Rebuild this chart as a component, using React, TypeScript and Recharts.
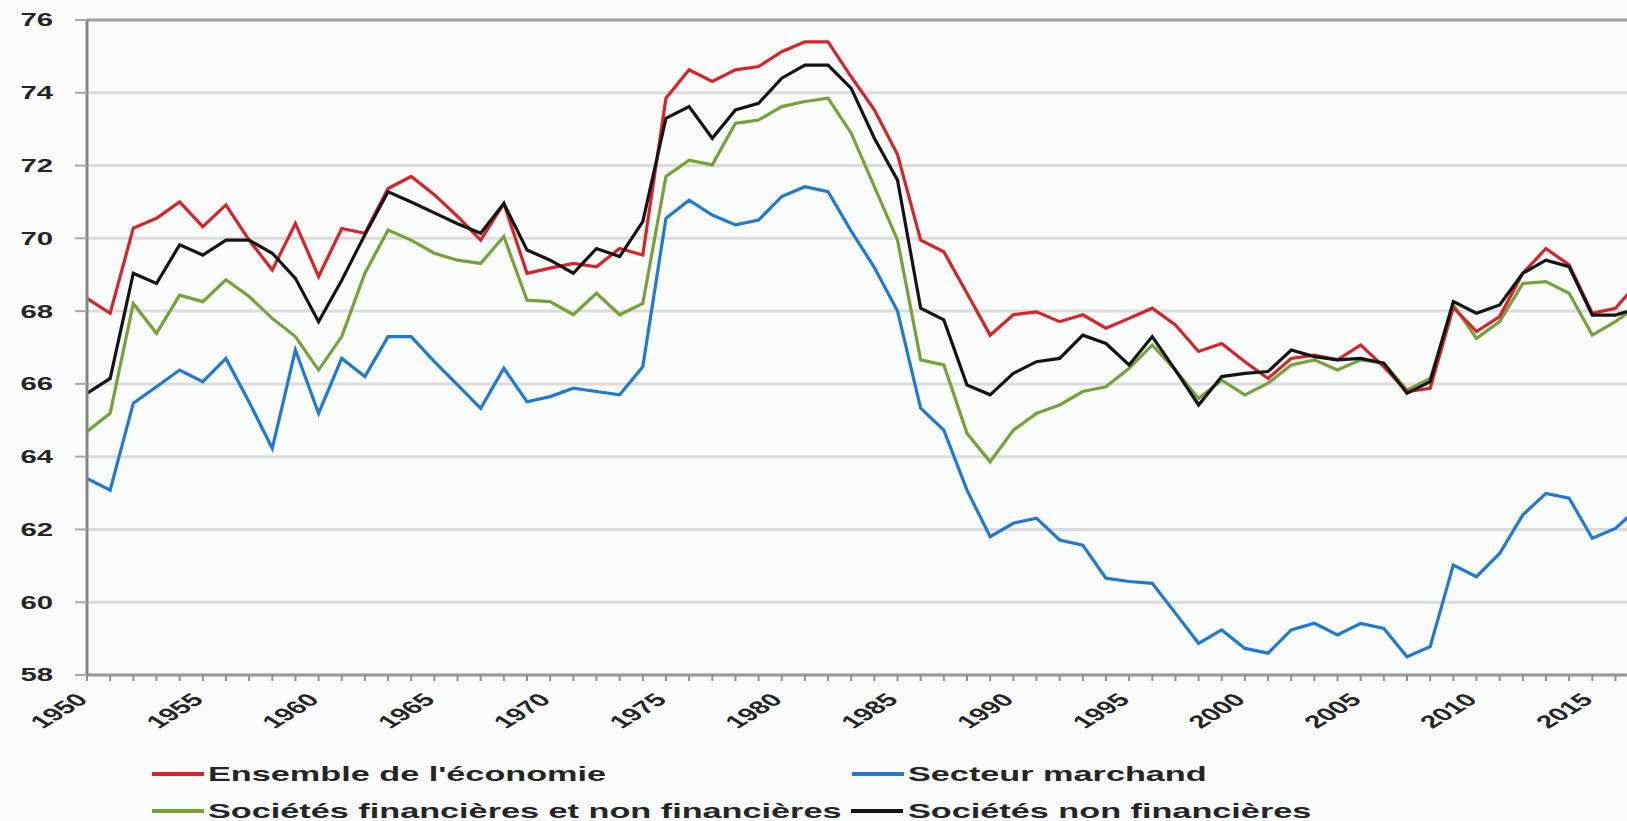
import React from "react";
import {
  LineChart,
  Line,
  XAxis,
  YAxis,
  CartesianGrid,
  ReferenceLine,
} from "recharts";

// Years on the horizontal axis
const years = [
  1950, 1951, 1952, 1953, 1954, 1955, 1956, 1957, 1958, 1959,
  1960, 1961, 1962, 1963, 1964, 1965, 1966, 1967, 1968, 1969,
  1970, 1971, 1972, 1973, 1974, 1975, 1976, 1977, 1978, 1979,
  1980, 1981, 1982, 1983, 1984, 1985, 1986, 1987, 1988, 1989,
  1990, 1991, 1992, 1993, 1994, 1995, 1996, 1997, 1998, 1999,
  2000, 2001, 2002, 2003, 2004, 2005, 2006, 2007, 2008, 2009,
  2010, 2011, 2012, 2013, 2014, 2015, 2016, 2017,
];

// Ensemble de l'économie
const ensemble = [
  68.35, 67.94, 70.28, 70.55, 71.0, 70.32, 70.92, 69.95, 69.13, 70.41,
  68.95, 70.27, 70.14, 71.37, 71.7, 71.2, 70.6, 69.95, 70.96, 69.04,
  69.18, 69.31, 69.22, 69.72, 69.54, 73.85, 74.63, 74.31, 74.63, 74.72,
  75.13, 75.4, 75.4, 74.44, 73.53, 72.3, 69.95, 69.63, 68.49, 67.34,
  67.9, 67.98, 67.71, 67.9, 67.53, 67.8, 68.08, 67.62, 66.89, 67.11,
  66.61, 66.15, 66.7, 66.79, 66.66, 67.07, 66.47, 65.79, 65.88, 68.1,
  67.44, 67.85, 69.04, 69.72, 69.27, 67.94, 68.08, 68.8,
];

// Secteur marchand
const marchand = [
  63.4, 63.08, 65.47, 65.92, 66.38, 66.06, 66.7, 65.5, 64.23, 66.93,
  65.19, 66.7, 66.2, 67.3, 67.3, 66.61, 65.97, 65.33, 66.43, 65.51,
  65.65, 65.88, 65.79, 65.7, 66.47, 70.55, 71.05, 70.64, 70.37, 70.5,
  71.15, 71.42, 71.28, 70.2, 69.2, 68.0, 65.33, 64.73, 63.08, 61.8,
  62.17, 62.31, 61.71, 61.57, 60.66, 60.57, 60.52, 59.7, 58.87, 59.24,
  58.73, 58.6, 59.24, 59.42, 59.1, 59.42, 59.28, 58.5, 58.78, 61.02,
  60.7, 61.34, 62.4, 62.99, 62.86, 61.76, 62.03, 62.6,
];

// Sociétés financières et non financières
const societesFin = [
  64.69, 65.19, 68.21, 67.39, 68.44, 68.26, 68.86, 68.4, 67.8, 67.3,
  66.38, 67.3, 69.04, 70.23, 69.95, 69.59, 69.4, 69.31, 70.05, 68.3,
  68.26, 67.9, 68.49, 67.9, 68.21, 71.7, 72.15, 72.02, 73.16, 73.25,
  73.62, 73.76, 73.85, 72.89, 71.42, 69.95, 66.66, 66.52, 64.64, 63.86,
  64.73, 65.19, 65.42, 65.79, 65.92, 66.43, 67.07, 66.38, 65.6, 66.1,
  65.7, 66.02, 66.52, 66.66, 66.38, 66.66, 66.57, 65.83, 66.15, 68.17,
  67.25, 67.71, 68.76, 68.81, 68.49, 67.34, 67.71, 68.17,
];

// Sociétés non financières
const societesNonFin = [
  65.74, 66.15, 69.04, 68.76, 69.82, 69.54, 69.95, 69.95, 69.59, 68.9,
  67.71, 68.85, 70.1, 71.28, 71.0, 70.7, 70.4, 70.14, 70.96, 69.68,
  69.4, 69.04, 69.72, 69.5, 70.46, 73.3, 73.62, 72.75, 73.53, 73.71,
  74.4, 74.76, 74.76, 74.12, 72.75, 71.6, 68.08, 67.76, 65.97, 65.7,
  66.29, 66.61, 66.7, 67.34, 67.11, 66.52, 67.3, 66.38, 65.42, 66.2,
  66.29, 66.34, 66.93, 66.75, 66.66, 66.7, 66.57, 65.74, 66.06, 68.26,
  67.94, 68.17, 69.04, 69.4, 69.22, 67.89, 67.89, 68.08,
];

const yTicks = [58, 60, 62, 64, 66, 68, 70, 72, 74, 76];
const xTicks = years.slice(0, 67); // 1950..2016, one tick mark per year

const seriesInfo = [
  { key: "ensemble", label: "Ensemble de l'économie", color: "#d8232a" },
  { key: "marchand", label: "Secteur marchand", color: "#2079d2" },
  { key: "societesFin", label: "Sociétés financières et non financières", color: "#77a23a" },
  { key: "societesNonFin", label: "Sociétés non financières", color: "#141414" },
];

const data = years.map((year, i) => ({
  year,
  ensemble: ensemble[i],
  marchand: marchand[i],
  societesFin: societesFin[i],
  societesNonFin: societesNonFin[i],
}));

// the source picture is stretched sideways, so text is too
const SX = 1.63;
const FONT = "'Liberation Sans', Arial, sans-serif";
const TEXT = "#252525";

const YTick = (props: any) => {
  const { x, y, payload } = props;
  return (
    <text
      transform={`translate(${x},${y}) scale(${SX},1)`}
      textAnchor="end"
      dy="0.36em"
      fontSize={18}
      fontWeight="bold"
      fontFamily={FONT}
      fill={TEXT}
    >
      {payload.value}
    </text>
  );
};

const XTick = (props: any) => {
  const { x, y, payload } = props;
  if (payload.value % 5 !== 0) return <g />;
  return (
    <text
      transform={`translate(${x + 2},${y + 18}) scale(${SX},1) rotate(-45)`}
      textAnchor="end"
      fontSize={18}
      fontWeight="bold"
      fontFamily={FONT}
      fill={TEXT}
    >
      {payload.value}
    </text>
  );
};

// legend placement: [left of swatch, top centre] per series
const legendPos: Record<string, [number, number, number]> = {
  ensemble: [152, 774, 208],
  marchand: [852, 774, 908],
  societesFin: [152, 811, 208],
  societesNonFin: [851, 811, 908],
};

function ChartLegend() {
  return (
    <>
      {seriesInfo.map((s) => {
        const [lx, cy, tx] = legendPos[s.key];
        return (
          <React.Fragment key={s.key}>
            <div
              style={{
                position: "absolute",
                left: lx,
                top: cy - 2,
                width: 52,
                height: 4,
                background: s.color,
              }}
            />
            <div
              style={{
                position: "absolute",
                left: tx,
                top: cy - 14,
                height: 28,
                lineHeight: "28px",
                whiteSpace: "nowrap",
                fontFamily: FONT,
                fontWeight: "bold",
                fontSize: 21,
                color: TEXT,
                transform: `scaleX(${SX})`,
                transformOrigin: "left center",
              }}
            >
              {s.label}
            </div>
          </React.Fragment>
        );
      })}
    </>
  );
}

export default function App() {
  return (
    <div
      style={{
        position: "absolute",
        left: 0,
        top: 0,
        width: 1627,
        height: 821,
        background: "#fafdfb",
        overflow: "hidden",
      }}
    >
      <LineChart
        width={1627}
        height={821}
        data={data}
        margin={{ top: 20, right: 0, bottom: 0, left: 0 }}
      >
        <CartesianGrid
          horizontal
          vertical={false}
          stroke="#dcdcdc"
          strokeWidth={3}
        />
        <ReferenceLine y={76} stroke="#a3a3a3" strokeWidth={3} />
        <XAxis
          dataKey="year"
          type="number"
          domain={[1950, 2016.5]}
          allowDataOverflow
          ticks={xTicks}
          interval={0}
          tick={<XTick />}
          tickSize={6}
          tickLine={{ stroke: "#8f8f8f", strokeWidth: 2 }}
          axisLine={{ stroke: "#9a9a9a", strokeWidth: 3 }}
          height={146}
        />
        <YAxis
          domain={[58, 76]}
          ticks={yTicks}
          interval={0}
          width={87}
          tick={<YTick />}
          tickSize={12}
          tickMargin={22}
          tickLine={{ stroke: "#a8a8a8", strokeWidth: 2 }}
          axisLine={{ stroke: "#858585", strokeWidth: 3 }}
        />
        <Line
          dataKey="marchand"
          stroke="#2079d2"
          strokeWidth={3.2}
          dot={false}
          isAnimationActive={false}
        />
        <Line
          dataKey="societesFin"
          stroke="#77a23a"
          strokeWidth={3.2}
          dot={false}
          isAnimationActive={false}
        />
        <Line
          dataKey="ensemble"
          stroke="#d8232a"
          strokeWidth={3.2}
          dot={false}
          isAnimationActive={false}
        />
        <Line
          dataKey="societesNonFin"
          stroke="#141414"
          strokeWidth={3.2}
          dot={false}
          isAnimationActive={false}
        />
      </LineChart>
      <ChartLegend />
    </div>
  );
}
